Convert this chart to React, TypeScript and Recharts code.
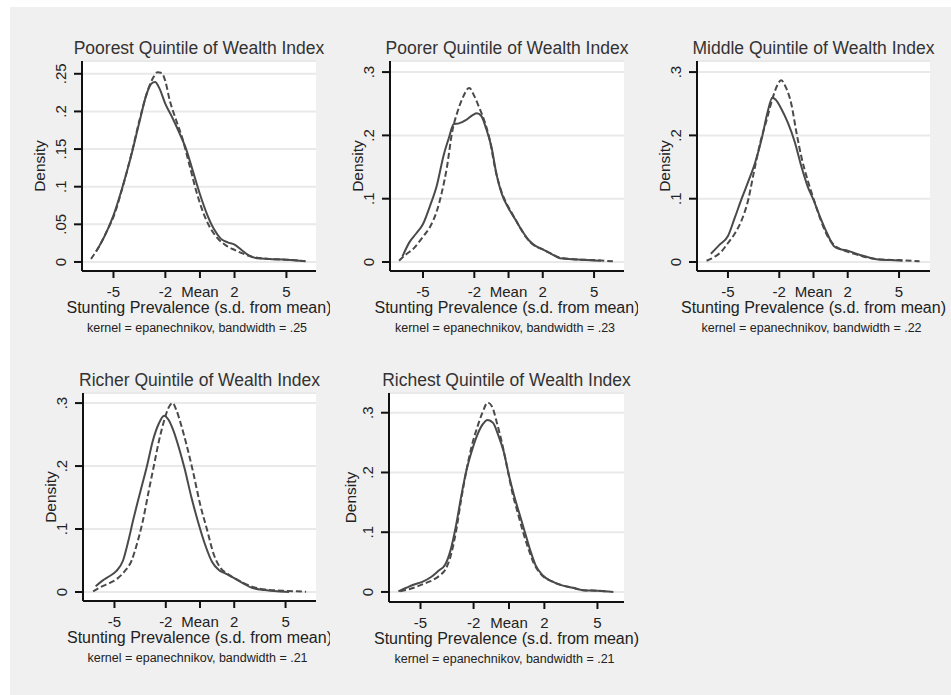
import React from "react";
import { LineChart, Line, XAxis, YAxis, CartesianGrid } from "recharts";

// x ticks are s.d. from the mean; 0 is labelled "Mean"
const xTicks = [-5, -2, 0, 2, 5];
const yTicksPoorest = [0, 0.05, 0.1, 0.15, 0.2, 0.25];
const yTicksOther = [0, 0.1, 0.2, 0.3];

const titles = [
  "Poorest Quintile of Wealth Index",
  "Poorer Quintile of Wealth Index",
  "Middle Quintile of Wealth Index",
  "Richer Quintile of Wealth Index",
  "Richest Quintile of Wealth Index",
];
const bandwidths = [".25", ".23", ".22", ".21", ".21"];

// [x, density]
const poorestSolid = [
  [-6.0, 0.014], [-5.5, 0.035], [-5.0, 0.062], [-4.5, 0.098], [-4.0, 0.139],
  [-3.5, 0.186], [-3.1, 0.222], [-2.8, 0.237], [-2.6, 0.239], [-2.35, 0.231],
  [-2.0, 0.21], [-1.6, 0.192], [-1.2, 0.172], [-0.8, 0.15], [-0.4, 0.12],
  [0, 0.09], [0.4, 0.064], [0.8, 0.044], [1.2, 0.031], [1.6, 0.026],
  [2.0, 0.023], [2.4, 0.016], [2.8, 0.009], [3.3, 0.005], [4.0, 0.004],
  [5.0, 0.003], [6.1, 0.001],
];
const poorestDashed = [
  [-6.3, 0.004], [-5.8, 0.022], [-5.3, 0.045], [-5.0, 0.06], [-4.5, 0.097],
  [-4.0, 0.14], [-3.5, 0.188], [-3.0, 0.229], [-2.7, 0.245], [-2.45, 0.252],
  [-2.2, 0.251], [-2.0, 0.24], [-1.75, 0.215], [-1.4, 0.19], [-1.0, 0.163],
  [-0.6, 0.128], [-0.2, 0.093], [0.2, 0.065], [0.6, 0.045], [1.0, 0.032],
  [1.5, 0.022], [2.0, 0.016], [2.5, 0.011], [3.0, 0.007], [4.0, 0.004],
  [5.0, 0.003], [6.1, 0.001],
];

const poorerSolid = [
  [-6.2, 0.009], [-5.8, 0.031], [-5.4, 0.045], [-5.0, 0.06], [-4.6, 0.088],
  [-4.2, 0.12], [-3.8, 0.168], [-3.5, 0.195], [-3.2, 0.218], [-2.9, 0.219],
  [-2.5, 0.224], [-2.1, 0.232], [-1.85, 0.235], [-1.6, 0.231], [-1.3, 0.21],
  [-1.0, 0.182], [-0.7, 0.138], [-0.4, 0.108], [0, 0.085], [0.4, 0.067],
  [0.8, 0.049], [1.2, 0.034], [1.6, 0.025], [2.0, 0.02], [2.5, 0.013],
  [3.0, 0.006], [4.0, 0.004], [5.4, 0.002],
];
const poorerDashed = [
  [-6.4, 0.002], [-6.0, 0.012], [-5.6, 0.02], [-5.0, 0.04], [-4.6, 0.055],
  [-4.2, 0.08], [-3.9, 0.11], [-3.6, 0.15], [-3.3, 0.205], [-3.0, 0.236],
  [-2.7, 0.258], [-2.3, 0.275], [-2.0, 0.262], [-1.7, 0.243], [-1.4, 0.222],
  [-1.1, 0.193], [-0.8, 0.15], [-0.5, 0.118], [-0.2, 0.097], [0.2, 0.077],
  [0.6, 0.058], [1.0, 0.04], [1.5, 0.026], [2.0, 0.02], [2.5, 0.013],
  [3.0, 0.007], [4.0, 0.004], [5.0, 0.003], [6.1, 0.001],
];

const middleSolid = [
  [-6.0, 0.013], [-5.5, 0.027], [-5.0, 0.041], [-4.6, 0.07], [-4.2, 0.1],
  [-3.8, 0.128], [-3.4, 0.158], [-3.0, 0.198], [-2.7, 0.235], [-2.4, 0.26],
  [-2.2, 0.256], [-1.9, 0.243], [-1.5, 0.22], [-1.1, 0.19], [-0.7, 0.15],
  [-0.35, 0.12], [0, 0.098], [0.4, 0.07], [0.8, 0.045], [1.2, 0.025],
  [1.6, 0.02], [2.0, 0.018], [2.5, 0.013], [3.0, 0.009], [3.8, 0.004],
  [4.5, 0.003], [5.2, 0.002],
];
const middleDashed = [
  [-6.25, 0.002], [-5.8, 0.008], [-5.4, 0.016], [-5.0, 0.03], [-4.6, 0.045],
  [-4.2, 0.066], [-3.8, 0.1], [-3.5, 0.14], [-3.1, 0.19], [-2.7, 0.228],
  [-2.4, 0.258], [-2.1, 0.28], [-1.9, 0.287], [-1.6, 0.275], [-1.3, 0.25],
  [-1.0, 0.205], [-0.7, 0.165], [-0.35, 0.13], [0, 0.1], [0.4, 0.068],
  [0.8, 0.042], [1.2, 0.027], [1.6, 0.02], [2.0, 0.016], [2.5, 0.012],
  [3.0, 0.008], [4.0, 0.004], [5.0, 0.003], [6.2, 0.001],
];

const richerSolid = [
  [-6.1, 0.009], [-5.7, 0.018], [-5.3, 0.025], [-4.9, 0.033], [-4.5, 0.05],
  [-4.2, 0.08], [-3.9, 0.115], [-3.5, 0.158], [-3.1, 0.2], [-2.75, 0.241],
  [-2.4, 0.268], [-2.1, 0.28], [-1.85, 0.274], [-1.55, 0.256], [-1.2, 0.226],
  [-0.9, 0.196], [-0.5, 0.15], [-0.1, 0.11], [0.3, 0.075], [0.7, 0.048],
  [1.1, 0.035], [1.5, 0.029], [2.0, 0.022], [2.5, 0.014], [3.0, 0.007],
  [3.8, 0.003], [4.5, 0.001], [5.2, 0.0],
];
const richerDashed = [
  [-6.25, 0.001], [-5.8, 0.008], [-5.3, 0.014], [-4.8, 0.022], [-4.4, 0.033],
  [-4.0, 0.05], [-3.7, 0.075], [-3.35, 0.112], [-3.0, 0.16], [-2.7, 0.2],
  [-2.4, 0.24], [-2.1, 0.272], [-1.85, 0.292], [-1.6, 0.3], [-1.4, 0.29],
  [-1.1, 0.265], [-0.8, 0.235], [-0.4, 0.19], [0, 0.14], [0.4, 0.1],
  [0.8, 0.06], [1.2, 0.038], [1.6, 0.029], [2.0, 0.022], [2.5, 0.015],
  [3.0, 0.009], [3.8, 0.004], [4.8, 0.002], [6.2, 0.0005],
];

const richestSolid = [
  [-6.25, 0.001], [-5.8, 0.007], [-5.4, 0.012], [-4.9, 0.017], [-4.4, 0.025],
  [-4.0, 0.035], [-3.6, 0.046], [-3.3, 0.07], [-3.0, 0.11], [-2.7, 0.16],
  [-2.4, 0.204], [-2.1, 0.236], [-1.8, 0.262], [-1.5, 0.28], [-1.2, 0.288],
  [-0.9, 0.283], [-0.6, 0.262], [-0.3, 0.235], [0, 0.195], [0.3, 0.16],
  [0.6, 0.13], [0.9, 0.1], [1.2, 0.07], [1.5, 0.045], [1.9, 0.028],
  [2.4, 0.018], [3.0, 0.011], [3.6, 0.007], [4.2, 0.003], [5.0, 0.002],
  [5.9, 0.0],
];
const richestDashed = [
  [-6.15, 0.001], [-5.6, 0.005], [-5.2, 0.009], [-4.7, 0.015], [-4.3, 0.02],
  [-3.9, 0.028], [-3.6, 0.037], [-3.3, 0.06], [-3.0, 0.1], [-2.7, 0.155],
  [-2.4, 0.204], [-2.1, 0.245], [-1.8, 0.275], [-1.5, 0.3], [-1.2, 0.317],
  [-0.95, 0.31], [-0.7, 0.285], [-0.4, 0.25], [-0.1, 0.208], [0.2, 0.165],
  [0.5, 0.132], [0.8, 0.1], [1.1, 0.072], [1.4, 0.048], [1.8, 0.03],
  [2.4, 0.018], [3.0, 0.011], [3.6, 0.007], [4.2, 0.003], [5.0, 0.002],
  [5.6, 0.001],
];

const solids = [poorestSolid, poorerSolid, middleSolid, richerSolid, richestSolid];
const dashes = [poorestDashed, poorerDashed, middleDashed, richerDashed, richestDashed];
const yTicksList = [yTicksPoorest, yTicksOther, yTicksOther, yTicksOther, yTicksOther];

// plot region in page pixels and the axis ranges it spans
const layout = [
  { px: 82, py: 61, pw: 234, ph: 210, xd: [-6.82, 6.71], yd: [-0.012, 0.267], dens: 37, r: 14 },
  { px: 390, py: 61, pw: 234, ph: 210, xd: [-6.93, 6.75], yd: [-0.0142, 0.3175], dens: 27, r: 14 },
  { px: 697, py: 61, pw: 233, ph: 210, xd: [-6.81, 6.81], yd: [-0.0142, 0.3175], dens: 27, r: 20 },
  { px: 83, py: 393, pw: 233, ph: 208, xd: [-6.84, 6.78], yd: [-0.0143, 0.316], dens: 27, r: 14 },
  { px: 389, py: 393, pw: 235, ph: 209, xd: [-6.78, 6.5], yd: [-0.0168, 0.333], dens: 33, r: 20 },
];

const FONT = "'Liberation Sans', Arial, Helvetica, sans-serif";
const TEXT = "#222";
const CURVE = "#4a4a4a";
const L = 60;
const T = 30;
const B = 70;

const toPoints = (arr: number[][]) => arr.map(([x, y]) => ({ x, y }));
const fmtY = (v: number) => (v === 0 ? "0" : String(v).replace(/^0\./, "."));

function Panel({ i }: { i: number }) {
  const { px, py, pw, ph, xd, yd, dens, r } = layout[i];
  const w = L + pw + r;
  const h = T + ph + B;
  const bottom = T + ph;
  const cx = L + pw / 2;

  const texts = () => (
    <g fontFamily={FONT} fill={TEXT}>
      <text x={cx} y={T - 7} textAnchor="middle" fontSize={17.5} fill="#333">
        {titles[i]}
      </text>
      <text x={cx} y={bottom + 41.5} textAnchor="middle" fontSize={16}>
        Stunting Prevalence (s.d. from mean)
      </text>
      <text x={cx - 2} y={bottom + 61} textAnchor="middle" fontSize={12.5}>
        {`kernel = epanechnikov, bandwidth = ${bandwidths[i]}`}
      </text>
      <text
        x={L - dens}
        y={T + ph / 2}
        textAnchor="middle"
        fontSize={15.5}
        transform={`rotate(-90 ${L - dens} ${T + ph / 2})`}
      >
        Density
      </text>
    </g>
  );

  return (
    <div
      style={{
        position: "absolute",
        left: px - L,
        top: py - T,
        width: w,
        height: h,
        overflow: "hidden",
      }}
    >
      <LineChart width={w} height={h} margin={{ top: T, right: r, left: 0, bottom: 0 }}>
        <CartesianGrid vertical={false} stroke="#e9e9e9" strokeWidth={2} fill="#ffffff" fillOpacity={1} />
        <XAxis
          type="number"
          dataKey="x"
          domain={xd}
          ticks={xTicks}
          allowDataOverflow
          height={B}
          tickSize={7}
          stroke="#111"
          axisLine={{ stroke: "#111", strokeWidth: 2 }}
          tickLine={{ stroke: "#111", strokeWidth: 2 }}
          tick={(p: any) => (
            <text x={p.x} y={bottom + 26} textAnchor="middle" fontSize={15} fontFamily={FONT} fill={TEXT}>
              {p.payload.value === 0 ? "Mean" : String(p.payload.value)}
            </text>
          )}
          label={{ content: texts }}
        />
        <YAxis
          type="number"
          domain={yd}
          ticks={yTicksList[i]}
          allowDataOverflow
          width={L}
          tickSize={8}
          axisLine={{ stroke: "#111", strokeWidth: 2 }}
          tickLine={{ stroke: "#111", strokeWidth: 2 }}
          tick={(p: any) => (
            <text
              x={L - 16}
              y={p.y}
              textAnchor="middle"
              fontSize={15}
              fontFamily={FONT}
              fill={TEXT}
              transform={`rotate(-90 ${L - 16} ${p.y})`}
            >
              {fmtY(p.payload.value)}
            </text>
          )}
        />
        <Line
          data={toPoints(solids[i])}
          dataKey="y"
          type="monotone"
          stroke={CURVE}
          strokeWidth={2}
          dot={false}
          activeDot={false}
          isAnimationActive={false}
        />
        <Line
          data={toPoints(dashes[i])}
          dataKey="y"
          type="monotone"
          stroke={CURVE}
          strokeWidth={2}
          strokeDasharray="6 3"
          dot={false}
          activeDot={false}
          isAnimationActive={false}
        />
      </LineChart>
    </div>
  );
}

export default function App() {
  return (
    <div style={{ position: "fixed", left: 0, top: 0, width: 951, height: 695, background: "#ffffff" }}>
      <div style={{ position: "absolute", left: 10, top: 7, right: 0, bottom: 0, background: "#f0f0f0" }} />
      {titles.map((_, i) => (
        <Panel key={i} i={i} />
      ))}
    </div>
  );
}
